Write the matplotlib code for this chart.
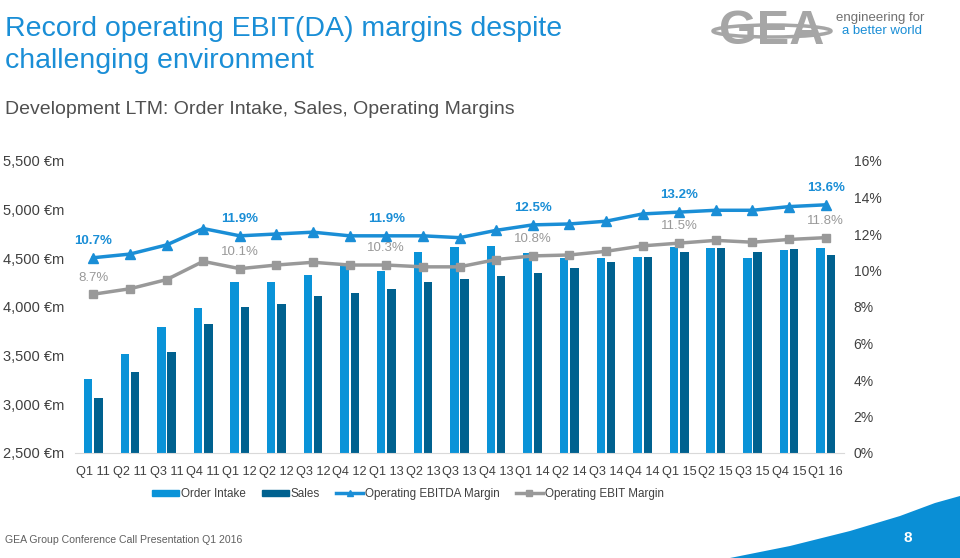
import numpy as np
import matplotlib.pyplot as plt
from matplotlib.patches import Patch, Polygon, Ellipse
from matplotlib.lines import Line2D

plt.rcParams['font.family'] = ['Liberation Sans', 'DejaVu Sans']

quarters = ['Q1 11', 'Q2 11', 'Q3 11', 'Q4 11', 'Q1 12', 'Q2 12', 'Q3 12', 'Q4 12',
            'Q1 13', 'Q2 13', 'Q3 13', 'Q4 13', 'Q1 14', 'Q2 14', 'Q3 14', 'Q4 14',
            'Q1 15', 'Q2 15', 'Q3 15', 'Q4 15', 'Q1 16']
order_intake = [3260, 3513, 3794, 3986, 4253, 4259, 4328, 4424, 4372, 4564, 4619,
                4622, 4557, 4506, 4506, 4516, 4619, 4602, 4499, 4588, 4605]
sales = [3068, 3332, 3540, 3828, 4003, 4030, 4109, 4140, 4184, 4253, 4284,
         4318, 4345, 4397, 4458, 4516, 4568, 4602, 4564, 4598, 4533]
ebitda_margin = [10.7, 10.9, 11.4, 12.3, 11.9, 12.0, 12.1, 11.9, 11.9, 11.9, 11.8,
                 12.2, 12.5, 12.55, 12.7, 13.1, 13.2, 13.3, 13.3, 13.5, 13.6]
ebit_margin = [8.7, 9.0, 9.5, 10.5, 10.1, 10.3, 10.45, 10.3, 10.3, 10.2, 10.2,
               10.6, 10.8, 10.85, 11.05, 11.35, 11.5, 11.65, 11.55, 11.7, 11.8]
label_idx = [0, 4, 8, 12, 16, 20]

blue = '#0a93d8'
dark_blue = '#00618f'
line_blue = '#1a8ed6'
grey = '#999999'
text_grey = '#404040'

fig = plt.figure(figsize=(9.6, 5.58), dpi=100)

# titles
fig.text(5/960, 1-29/558, 'Record operating EBIT(DA) margins despite', color=line_blue,
         fontsize=20.5, va='center', ha='left')
fig.text(5/960, 1-61/558, 'challenging environment', color=line_blue,
         fontsize=20.5, va='center', ha='left')
fig.text(5/960, 1-110/558, 'Development LTM: Order Intake, Sales, Operating Margins',
         color='#505050', fontsize=14, va='center', ha='left')

# logo
fig.text(772/960, 1-32/558, 'GEA', color='#a6a6a6', fontsize=35, fontweight='bold',
         va='center', ha='center')
fig.patches.append(Ellipse((772/960, 1-31/558), 118/960, 12/558, fill=False,
                           edgecolor='#a6a6a6', lw=2.5, transform=fig.transFigure))
fig.text(836/960, 1-18/558, 'engineering for', color='#707070', fontsize=9.5, va='center')
fig.text(842/960, 1-31/558, 'a better world', color=line_blue, fontsize=9.5, va='center')

ax = fig.add_axes([75/960, 1-453/558, 769/960, 292/558])
x = np.arange(len(quarters))
w = 0.23
ax.bar(x - 0.14, order_intake, w, color=blue, zorder=2)
ax.bar(x + 0.14, sales, w, color=dark_blue, zorder=2)
ax.set_xlim(-0.5, 20.5)
ax.set_ylim(2500, 5500)
ax.set_yticks([2500, 3000, 3500, 4000, 4500, 5000, 5500])
ax.set_yticklabels(['2,500 €m', '3,000 €m', '3,500 €m', '4,000 €m', '4,500 €m',
                    '5,000 €m', '5,500 €m'])
ax.set_xticks(x)
ax.set_xticklabels(quarters)
ax.tick_params(axis='both', length=0, labelsize=10.5, colors=text_grey)
ax.tick_params(axis='y', pad=8)
ax.tick_params(axis='x', pad=9, labelsize=9.2)
for s in ['top', 'left', 'right']:
    ax.spines[s].set_visible(False)
ax.spines['bottom'].set_color('#d9d9d9')

ax2 = ax.twinx()
ax2.set_ylim(0, 16)
ax2.set_yticks(range(0, 17, 2))
ax2.set_yticklabels([f'{v}%' for v in range(0, 17, 2)])
ax2.tick_params(axis='y', length=0, labelsize=10, colors=text_grey, pad=7)
for s in ['top', 'left', 'right', 'bottom']:
    ax2.spines[s].set_visible(False)
ax2.plot(x, ebitda_margin, color=line_blue, lw=2.5, marker='^', ms=7, zorder=3)
ax2.plot(x, ebit_margin, color=grey, lw=2.5, marker='s', ms=6, zorder=3)

for i in label_idx:
    ax2.annotate(f'{ebitda_margin[i]:.1f}%', (x[i], ebitda_margin[i]), xytext=(0, 12),
                 textcoords='offset points', ha='center', va='center',
                 color=line_blue, fontsize=9.5, fontweight='bold')
    ax2.annotate(f'{ebit_margin[i]:.1f}%', (x[i], ebit_margin[i]), xytext=(0, 12),
                 textcoords='offset points', ha='center', va='center',
                 color=grey, fontsize=9.5)

handles = [Patch(color=blue), Patch(color=dark_blue),
           Line2D([], [], color=line_blue, lw=2.5, marker='^', ms=5),
           Line2D([], [], color=grey, lw=2.5, marker='s', ms=5)]
labels = ['Order Intake', 'Sales', 'Operating EBITDA Margin', 'Operating EBIT Margin']
fig.legend(handles, labels, loc='center', bbox_to_anchor=(408/960, 1-494/558), ncol=4,
           frameon=False, fontsize=8.4, handlelength=2.3, handleheight=0.5,
           handletextpad=0.15, columnspacing=1.4, labelcolor=text_grey)

# footer
fig.text(5/960, 1-540/558, 'GEA Group Conference Call Presentation Q1 2016',
         color='#606060', fontsize=7.6, va='center', ha='left')
swoosh = Polygon([(730/960, 0), (790/960, 12/558), (850/960, 27/558), (900/960, 42/558),
                  (935/960, 55/558), (960/960, 62/558), (1, 0)], closed=True,
                 facecolor='#0a8fd6', edgecolor='none', transform=fig.transFigure)
fig.patches.append(swoosh)
fig.text(908/960, 1-538/558, '8', color='white', fontsize=11, fontweight='bold',
         va='center', ha='center')

fig.savefig('out.png', dpi=100)
